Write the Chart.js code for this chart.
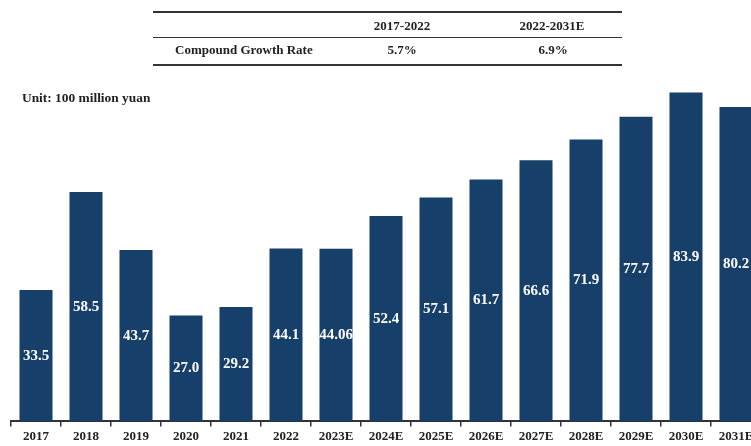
<!DOCTYPE html>
<html>
<head>
<meta charset="utf-8">
<script src="https://cdn.jsdelivr.net/npm/chart.js@4/dist/chart.umd.min.js"></script>
<style>
  html, body { margin: 0; padding: 0; background: #fff; overflow: hidden; }
  body { width: 751px; height: 446px; position: relative; font-family: "Liberation Serif", "Times New Roman", serif; color: #222; }
  #wrap { position: absolute; left: 0; top: 0; width: 761px; height: 446px; }
  #cagr { position: absolute; left: 153px; top: 11px; width: 469px; height: 51px; border-top: 2px solid #333; border-bottom: 2px solid #333; }
  #cagr .mid { position: absolute; left: 0; right: 0; top: 24px; border-top: 1px solid #333; }
  #cagr span { position: absolute; font-weight: bold; font-size: 13px; line-height: 16px; white-space: nowrap; }
  #cagr .c { transform: translateX(-50%); }
  #unit { position: absolute; left: 22px; top: 90px; font-weight: bold; font-size: 13.4px; white-space: nowrap; }
</style>
</head>
<body>
<div id="wrap"><canvas id="graph"></canvas></div>

<div id="cagr">
  <div class="mid"></div>
  <span class="c" style="left:249px; top:5px;"></span>
  <span class="c" style="left:399px; top:5px;"></span>
  <span style="left:22px; top:29px;"></span>
  <span class="c" style="left:249px; top:29px;"></span>
  <span class="c" style="left:400px; top:29px;"></span>
</div>
<div id="unit">Unit: 100 million yuan</div>

<script>
// market size by year, 2023E onwards are estimates
const years = ["2017", "2018", "2019", "2020", "2021", "2022", "2023E", "2024E",
               "2025E", "2026E", "2027E", "2028E", "2029E", "2030E", "2031E"];
const sizes = [33.5, 58.5, 43.7, 27.0, 29.2, 44.1, 44.06, 52.4,
               57.1, 61.7, 66.6, 71.9, 77.7, 83.9, 80.2];

// compound growth table
const periods = ["2017-2022", "2022-2031E"];
const growthRates = ["5.7%", "6.9%"];
const growthTitle = "Compound Growth Rate";

const cells = document.querySelectorAll("#cagr span");
cells[0].textContent = periods[0];
cells[1].textContent = periods[1];
cells[2].textContent = growthTitle;
cells[3].textContent = growthRates[0];
cells[4].textContent = growthRates[1];

function fmt(v) {
    let t = v * 10;
    return Math.abs(t - Math.round(t)) < 1e-6 ? v.toFixed(1) : String(v);
}

// white value in the middle of each bar
const midLabels = {
    id: "midLabels",
    afterDatasetsDraw(chart) {
        const ctx = chart.ctx;
        const meta = chart.getDatasetMeta(0);
        ctx.save();
        ctx.fillStyle = "#ffffff";
        ctx.font = "bold 15px 'Liberation Serif', serif";
        ctx.textAlign = "center";
        ctx.textBaseline = "middle";
        meta.data.forEach((bar, i) => {
            let y = (bar.y + bar.base) / 2;
            ctx.fillText(fmt(sizes[i]), bar.x, y);
        });
        ctx.restore();
    }
};

const graph = document.getElementById("graph");
const ctx = graph.getContext("2d");

let myChart = new Chart(ctx, {
    type: "bar",
    data: {
        labels: years,
        datasets: [
            {
                label: "Market size",
                data: sizes,
                backgroundColor: "#163f69",
                categoryPercentage: 1,
                barPercentage: 0.66
            }
        ]
    },
    options: {
        responsive: true,
        maintainAspectRatio: false,
        animation: false,
        layout: { padding: { top: 80, left: 11, right: 0, bottom: 0 } },
        plugins: {
            legend: { display: false },
            tooltip: { enabled: false }
        },
        scales: {
            x: {
                grid: { display: true, drawOnChartArea: false, tickLength: 5, color: "#333", lineWidth: 1.5 },
                border: { display: true, color: "#333", width: 2 },
                ticks: {
                    color: "#222",
                    padding: 2,
                    maxRotation: 0,
                    autoSkip: false,
                    font: { family: "'Liberation Serif', serif", size: 13, weight: "bold" }
                }
            },
            y: {
                display: false,
                min: 0,
                max: 87.1
            }
        }
    },
    plugins: [midLabels]
});
</script>
</body>
</html>
